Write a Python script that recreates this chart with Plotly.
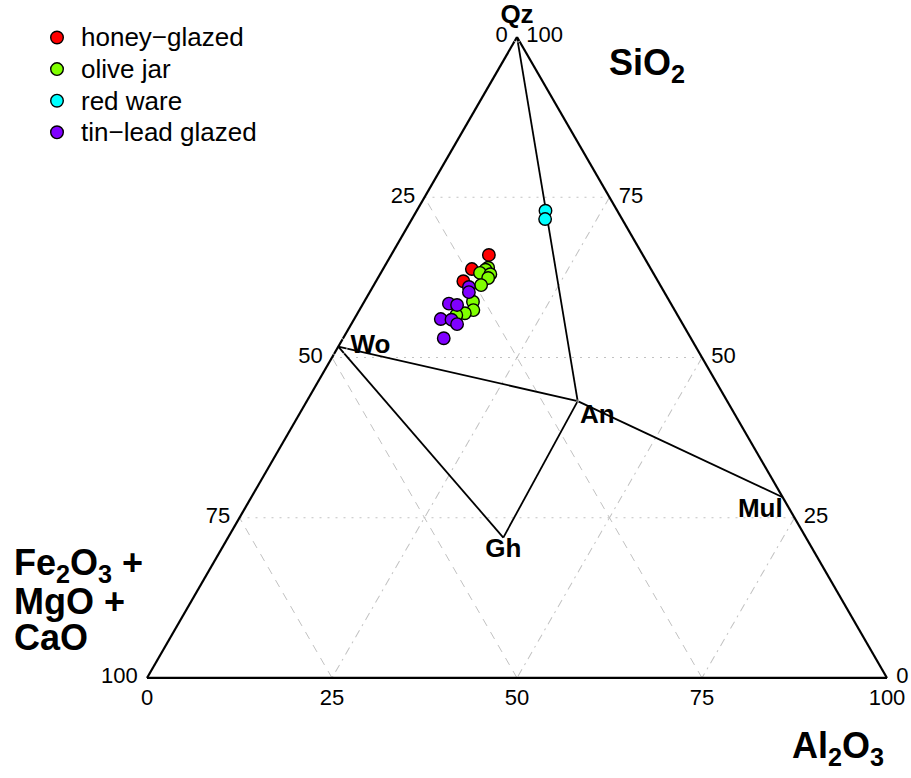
import plotly.graph_objects as go

# ---- sample compositions (wt%) ----
honey_sio2 = [66.0, 63.8, 61.9]
honey_al2o3 = [13.2, 12.0, 11.8]
honey_fmc = [20.8, 24.2, 26.3]

olive_sio2 = [64.0, 63.7, 63.2, 63.0, 62.4, 61.3, 58.7, 57.4, 56.9, 56.6]
olive_al2o3 = [14.1, 13.9, 13.4, 14.9, 14.9, 14.5, 14.7, 15.4, 14.5, 13.5]
olive_fmc = [21.9, 22.4, 23.4, 22.1, 22.7, 24.2, 26.6, 27.2, 28.6, 29.9]

red_sio2 = [72.9, 71.6]
red_al2o3 = [17.4, 18.0]
red_fmc = [9.7, 10.4]

tin_sio2 = [61.0, 60.2, 58.4, 58.2, 56.0, 55.9, 55.2, 53.0]
tin_al2o3 = [13.0, 13.4, 11.6, 12.8, 11.7, 13.2, 14.3, 13.6]
tin_fmc = [26.0, 26.4, 30.0, 29.0, 32.3, 30.9, 30.5, 33.4]

# ---- reference minerals ----
minerals = ["Qz", "Wo", "An", "Mul", "Gh"]
min_sio2 = [100.0, 51.7, 43.2, 28.2, 21.9]
min_al2o3 = [0.0, 0.0, 36.6, 71.8, 37.2]
min_fmc = [0.0, 48.3, 20.2, 0.0, 40.9]
tie_lines = [("Qz", "An"), ("Wo", "An"), ("An", "Mul"), ("Wo", "Gh"), ("Gh", "An")]
label_pos = ["top center", "middle right", "bottom right", "bottom left", "bottom center"]
label_pad = [10, 18, 2, 0, 0]

ticks = [0, 25, 50, 75, 100]

FONT = "Liberation Sans, Arial, sans-serif"
NBSP = "\u00a0"

groups = [
    ("honey−glazed", honey_sio2, honey_al2o3, honey_fmc, "#FF0000"),
    ("olive jar", olive_sio2, olive_al2o3, olive_fmc, "#80FF00"),
    ("red ware", red_sio2, red_al2o3, red_fmc, "#00FFFF"),
    ("tin−lead glazed", tin_sio2, tin_al2o3, tin_fmc, "#8000FF"),
]

fig = go.Figure()

# phase-diagram tie lines
idx = {m: i for i, m in enumerate(minerals)}
la, lb, lc = [], [], []
for p, q in tie_lines:
    for m in (p, q):
        la.append(min_sio2[idx[m]])
        lb.append(min_fmc[idx[m]])
        lc.append(min_al2o3[idx[m]])
    la.append(None); lb.append(None); lc.append(None)
fig.add_trace(go.Scatterternary(
    a=la, b=lb, c=lc, mode="lines", connectgaps=False,
    line=dict(color="black", width=1.8), showlegend=False, hoverinfo="skip"))

# mineral labels (invisible markers set the text offset)
fig.add_trace(go.Scatterternary(
    a=min_sio2, b=min_fmc, c=min_al2o3, mode="markers+text", text=minerals,
    textposition=label_pos, cliponaxis=False,
    marker=dict(size=label_pad, color="rgba(0,0,0,0)"),
    textfont=dict(family=FONT, size=26, color="black", weight="bold"),
    showlegend=False, hoverinfo="skip"))

for i, (name, s, a, f, col) in enumerate(groups):
    fig.add_trace(go.Scatterternary(
        a=s, b=f, c=a, mode="markers", name=name, showlegend=False,
        cliponaxis=False,
        marker=dict(size=12.5, color=col, line=dict(color="black", width=1.4))))

def axis(dash, prefix="", suffix=""):
    # each edge is labelled with the complementary component's percentage
    return dict(
        tickvals=ticks, ticktext=[f"{prefix}{100 - t}{suffix}" for t in ticks],
        ticks="", showline=True, linecolor="black", linewidth=2.2,
        showgrid=True, gridcolor="#c2c2c2", gridwidth=1.4, griddash=dash,
        tickfont=dict(family=FONT, size=22, color="black"),
        title=dict(text=""), layer="below traces")

W, H = 911, 778

# legend drawn as swatches + labels in the upper-left corner
legend_shapes, legend_notes = [], []
for i, (name, _, _, _, col) in enumerate(groups):
    yc = 37.5 + 31.6 * i
    legend_shapes.append(dict(
        type="circle", xref="paper", yref="paper",
        x0=(57 - 6.3) / W, x1=(57 + 6.3) / W,
        y0=1 - (yc + 6.3) / H, y1=1 - (yc - 6.3) / H,
        fillcolor=col, line=dict(color="black", width=1.4)))
    legend_notes.append(dict(
        text=name, x=79 / W, y=1 - yc / H, xref="paper", yref="paper",
        xanchor="left", yanchor="middle", showarrow=False,
        font=dict(size=26, family=FONT, color="black")))

title_font = dict(size=36, family=FONT, color="black")
titles = [
    dict(text="<b>SiO<sub>2</sub></b>", x=647 / W, y=1 - 65 / H),
    dict(text="<b>Fe<sub>2</sub>O<sub>3</sub> +</b>", x=12 / W, y=1 - 565 / H, xanchor="left"),
    dict(text="<b>MgO +</b>", x=12 / W, y=1 - 601 / H, xanchor="left"),
    dict(text="<b>CaO</b>", x=12 / W, y=1 - 637 / H, xanchor="left"),
    dict(text="<b>Al<sub>2</sub>O<sub>3</sub></b>", x=838 / W, y=1 - 748 / H),
]
for t in titles:
    t.setdefault("xanchor", "center")
    t.update(yanchor="middle", xref="paper", yref="paper", showarrow=False, font=title_font)

fig.update_layout(
    width=W, height=H,
    margin=dict(l=0, r=0, t=0, b=0),
    paper_bgcolor="white",
    font=dict(family=FONT, color="black"),
    showlegend=False,
    ternary=dict(
        sum=100, bgcolor="white",
        domain=dict(x=[147 / W, 887 / W], y=[(H - 678) / H, (H - 37) / H]),
        aaxis=axis("2px,6px", suffix=NBSP),
        baxis=axis("8px,7px"),
        caxis=axis("8px,5px,2px,5px", prefix=NBSP),
    ),
    shapes=legend_shapes,
    annotations=legend_notes + titles,
)

fig.write_html("out.html")
